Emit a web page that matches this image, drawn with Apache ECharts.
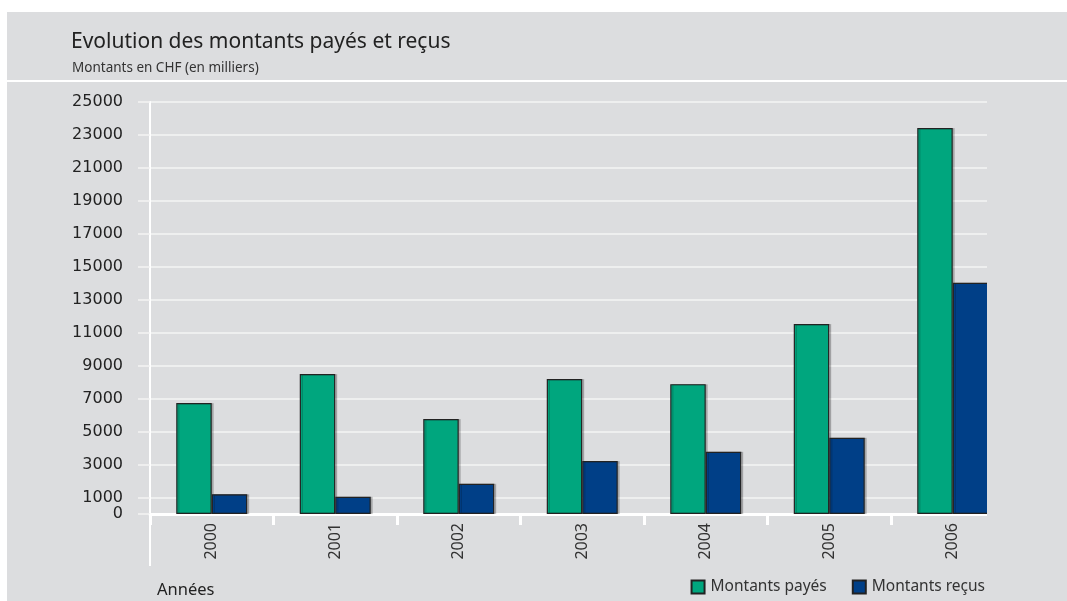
<!DOCTYPE html>
<html>
<head>
<meta charset="utf-8">
<title>Evolution des montants payés et reçus</title>
<script src="https://cdn.jsdelivr.net/npm/echarts@6/dist/echarts.min.js"></script>
<style>
  html, body { margin: 0; padding: 0; background: #ffffff; }
  #chart { width: 1067px; height: 601px; }
</style>
</head>
<body>
<div id="chart"></div>
<script>
// données (en milliers de CHF)
var years = ["2000", "2001", "2002", "2003", "2004", "2005", "2006"];
var payes = [6730, 8490, 5760, 8190, 7880, 11530, 23420];
var recus = [1200, 1040, 1830, 3210, 3780, 4630, 14030];
var yTicks = [0, 1000, 3000, 5000, 7000, 9000, 11000, 13000, 15000, 17000, 19000, 21000, 23000, 25000];

var FONT = "Noto Sans";
var bg = "#dcdddf";

var chart = echarts.init(document.getElementById("chart"));

chart.setOption({
  backgroundColor: "#ffffff",
  textStyle: { fontFamily: FONT },
  title: [
    {
      text: "Evolution des montants payés et reçus",
      left: 66,
      top: 27,
      textStyle: { fontSize: 21, fontWeight: "normal", color: "#222", fontFamily: FONT }
    },
    {
      text: "Montants en CHF (en milliers)",
      left: 67,
      top: 56,
      textStyle: { fontSize: 13.5, fontWeight: "normal", color: "#333", fontFamily: FONT }
    },
    {
      text: "Années",
      left: 152,
      top: 577,
      textStyle: { fontSize: 16.5, fontWeight: "normal", color: "#222", fontFamily: FONT }
    }
  ],
  graphic: [
    // fond gris
    { type: "rect", z: -10, shape: { x: 7, y: 12, width: 1060, height: 589 }, style: { fill: bg } },
    // séparateur sous le titre
    { type: "rect", z: -9, shape: { x: 7, y: 80, width: 1060, height: 2 }, style: { fill: "#ffffff" } },
    // prolongement de l'axe vertical
    { type: "rect", z: 5, shape: { x: 149, y: 514, width: 2, height: 52 }, style: { fill: "#ffffff" } },
    // cache la fin de la grille à droite
    { type: "rect", z: 4, shape: { x: 987, y: 90, width: 40, height: 440 }, style: { fill: bg } }
  ],
  legend: {
    data: ["Montants payés", "Montants reçus"],
    right: 82,
    top: 579,
    padding: 0,
    itemWidth: 13,
    itemHeight: 13,
    itemGap: 25,
    icon: "rect",
    textStyle: { fontSize: 15.5, color: "#333", fontFamily: FONT, padding: [0, 0, 0, 1] }
  },
  grid: {
    left: 150,
    top: 102,
    width: 864.5,
    bottom: 87,
    containLabel: false
  },
  xAxis: {
    type: "category",
    data: years,
    boundaryGap: true,
    axisLine: { show: true, lineStyle: { color: "#ffffff", width: 3 } },
    axisTick: { show: true, length: 11, lineStyle: { color: "#ffffff", width: 3 } },
    axisLabel: { rotate: 90, margin: 9, fontSize: 16, color: "#333", fontFamily: FONT },
    splitLine: { show: false }
  },
  yAxis: {
    type: "value",
    min: 0,
    max: 25000,
    axisLine: { show: true, lineStyle: { color: "#ffffff", width: 2 } },
    axisTick: { show: true, length: 12, customValues: yTicks, lineStyle: { color: "#f4f4f4", width: 1.5 } },
    axisLabel: {
      customValues: yTicks,
      margin: 27,
      fontSize: 16,
      color: "#222",
      fontFamily: "DejaVu Sans",
      formatter: function (v) { return String(v); }
    },
    splitLine: { show: true, customValues: yTicks, lineStyle: { color: "#f4f4f4", width: 1.5 } }
  },
  series: [
    {
      name: "Montants payés",
      type: "bar",
      data: payes,
      barWidth: 35.5,
      barGap: "0%",
      z: 3,
      itemStyle: {
        color: "#00a67e",
        borderColor: "#222",
        borderWidth: 1.2,
        shadowColor: "rgba(0,0,0,0.18)",
        shadowOffsetX: 2,
        shadowOffsetY: 0
      }
    },
    {
      name: "Montants reçus",
      type: "bar",
      data: recus,
      barWidth: 35.5,
      barGap: "0%",
      z: 3,
      itemStyle: {
        color: "#003f87",
        borderColor: "#222",
        borderWidth: 1.2,
        shadowColor: "rgba(0,0,0,0.18)",
        shadowOffsetX: 2,
        shadowOffsetY: 0
      }
    }
  ]
});
</script>
</body>
</html>
